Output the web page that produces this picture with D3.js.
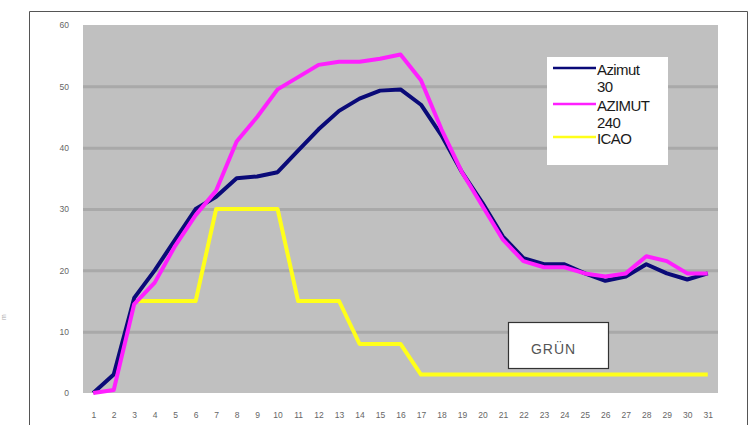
<!DOCTYPE html>
<html>
<head>
<meta charset="utf-8">
<script src="https://cdn.jsdelivr.net/npm/d3@7.9.0/dist/d3.min.js"></script>
<style>
  body { margin: 0; background: #fff; }
  svg { display: block; font-family: 'Liberation Sans', Arial, sans-serif; }
</style>
</head>
<body>
<div id="chart"></div>
<script>
// days of the month
const days = d3.range(1, 32);

const azimut30 = [0, 3, 15.5, 20, 25, 30, 32, 35, 35.3, 36, 39.5, 43, 46, 48, 49.3, 49.5,
  47, 42, 36, 31, 25.5, 22, 21, 21, 19.5, 18.3, 19, 21, 19.5, 18.5, 19.5];

const azimut240 = [0, 0.5, 14.5, 18, 24, 29, 33, 41, 45, 49.5, 51.5, 53.5, 54, 54, 54.5, 55.2,
  51, 43, 36, 30.5, 25, 21.5, 20.5, 20.5, 19.5, 19, 19.5, 22.3, 21.5, 19.5, 19.5];

const icao = [null, null, 15, 15, 15, 15, 30, 30, 30, 30, 15, 15, 15, 8, 8, 8,
  3, 3, 3, 3, 3, 3, 3, 3, 3, 3, 3, 3, 3, 3, 3];

const yTicks = [0, 10, 20, 30, 40, 50, 60];

const series = [
  { name: ['Azimut', '30'], values: azimut30, color: '#0a0a78' },
  { name: ['AZIMUT', '240'], values: azimut240, color: '#ff1fff' },
  { name: ['ICAO'], values: icao, color: '#ffff1a' },
];

const width = 753, height = 425;
const plot = { left: 83, right: 718, top: 25, bottom: 393 };

const svg = d3.select('#chart').append('svg')
  .attr('width', width)
  .attr('height', height);

// outer frame
svg.append('path')
  .attr('d', `M29.5,${height}V11.5H747.5V${height}`)
  .attr('fill', 'none')
  .attr('stroke', '#555');

const x = d3.scalePoint()
  .domain(days)
  .range([plot.left, plot.right])
  .padding(0.5);

const y = d3.scaleLinear().domain([0, 60]).range([plot.bottom, plot.top]);

// plot background
svg.append('rect')
  .attr('x', plot.left)
  .attr('y', plot.top)
  .attr('width', plot.right - plot.left)
  .attr('height', plot.bottom - plot.top)
  .attr('fill', '#c0c0c0');

// gridlines
const grid = svg.append('g')
  .attr('transform', `translate(${plot.left},0)`)
  .call(d3.axisLeft(y).tickValues(yTicks.filter(d => d > 0 && d < 60)).tickFormat('').tickSize(-(plot.right - plot.left)));
grid.select('.domain').remove();
grid.selectAll('line').attr('stroke', '#a9a9a9').attr('stroke-width', 3);

// y axis labels
const yAxis = svg.append('g')
  .attr('transform', `translate(${plot.left - 14},0)`)
  .call(d3.axisLeft(y).tickValues(yTicks).tickSize(0).tickPadding(0));
yAxis.select('.domain').remove();
yAxis.selectAll('text').attr('fill', '#666').attr('font-size', 8.5).attr('font-family', 'Liberation Sans, Arial, sans-serif');

// x axis labels
const xAxis = svg.append('g')
  .attr('transform', `translate(0,${plot.bottom + 19})`)
  .call(d3.axisBottom(x).tickSize(0).tickPadding(0));
xAxis.select('.domain').remove();
xAxis.selectAll('text').attr('fill', '#666').attr('font-size', 8.5).attr('font-family', 'Liberation Sans, Arial, sans-serif');

// stray axis title fragment at left edge
svg.append('text')
  .attr('x', 6)
  .attr('y', 317)
  .attr('font-size', 7)
  .attr('fill', '#aaa')
  .attr('transform', 'rotate(-90,6,317)')
  .attr('text-anchor', 'middle')
  .text('m');

// lines
const line = d3.line()
  .defined(d => d[1] != null)
  .x(d => x(d[0]))
  .y(d => y(d[1]));

// draw order: yellow underneath, navy, then magenta on top
[series[2], series[0], series[1]].forEach(s => {
  svg.append('path')
    .datum(days.map((d, i) => [d, s.values[i]]))
    .attr('fill', 'none')
    .attr('stroke', s.color)
    .attr('stroke-width', 4)
    .attr('stroke-linejoin', 'round')
    .attr('d', line);
});

// legend
const legend = svg.append('g').attr('transform', 'translate(547,57)');
legend.append('rect')
  .attr('width', 121)
  .attr('height', 108)
  .attr('fill', '#fff');

const rowY = [11, 47, 80];
series.forEach((s, i) => {
  const g = legend.append('g').attr('transform', `translate(0,${rowY[i]})`);
  g.append('line')
    .attr('x1', 6).attr('x2', 49)
    .attr('y1', 0).attr('y2', 0)
    .attr('stroke', s.color)
    .attr('stroke-width', 2.5);
  s.name.forEach((t, j) => {
    g.append('text')
      .attr('x', 50)
      .attr('y', 7 + j * 17)
      .attr('font-size', 15)
      .attr('letter-spacing', -0.6)
      .attr('fill', '#1a1a1a')
      .text(t);
  });
});

// GRÜN label box
const gb = svg.append('g').attr('transform', 'translate(508.5,322.5)');
gb.append('rect')
  .attr('width', 100)
  .attr('height', 46)
  .attr('fill', '#fff')
  .attr('stroke', '#333')
  .attr('stroke-width', 1.2);
gb.append('text')
  .attr('x', 45)
  .attr('y', 31)
  .attr('text-anchor', 'middle')
  .attr('font-size', 14)
  .attr('letter-spacing', 1)
  .attr('fill', '#555')
  .text('GRÜN');
</script>
</body>
</html>
